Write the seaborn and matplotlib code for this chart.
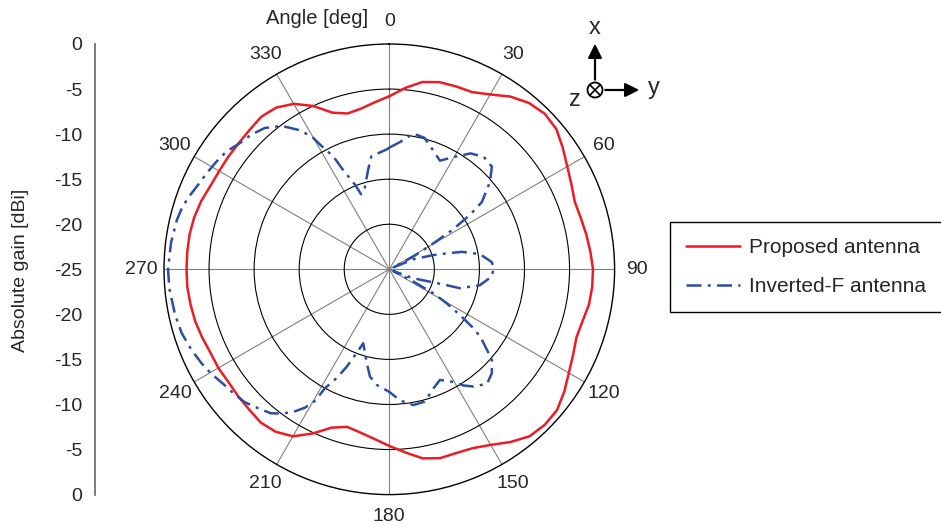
import numpy as np
import pandas as pd
import matplotlib.pyplot as plt
import seaborn as sns
from matplotlib.patches import Circle

# Proposed antenna (angle in deg, absolute gain in dBi)
proposed_angle = [0, 5, 10, 15, 20, 25, 30, 35, 40, 45, 50, 55, 60, 65, 70, 75, 80, 85,
                  90, 95, 100, 105, 110, 115, 120, 125, 130, 135, 140, 145, 150, 155, 160, 165, 170, 175,
                  180, 185, 190, 195, 200, 205, 210, 215, 220, 225, 230, 235, 240, 245, 250, 255, 260, 265,
                  270, 275, 280, 285, 290, 295, 300, 305, 310, 315, 320, 325, 330, 335, 340, 345, 350, 355, 360]
proposed_gain = [-5.8, -4.8, -3.9, -3.5, -3.4, -3.3, -2.6, -1.6, -0.9, -0.6, -0.8, -1.5, -2.2, -2.7, -3.1, -3.0, -2.8, -2.6,
                 -2.4, -2.4, -2.5, -2.8, -2.9, -2.5, -2.0, -1.3, -0.7, -0.6, -0.8, -1.6, -2.5, -3.1, -3.3, -3.3, -3.7, -4.6,
                 -5.4, -6.1, -6.6, -6.9, -6.3, -4.9, -3.6, -3.0, -2.8, -3.0, -3.1, -3.2, -3.1, -3.1, -2.9, -2.7, -2.6, -2.5,
                 -2.5, -2.5, -2.5, -2.6, -2.8, -3.1, -3.2, -3.2, -3.2, -3.1, -2.9, -3.1, -3.8, -5.0, -6.5, -7.1, -6.9, -6.4, -5.8]

# Inverted-F antenna
inv_f_angle = [0, 5, 10, 15, 20, 25, 30, 35, 40, 45, 49, 54, 56, 58, 59.5, 62, 65, 67.5, 72, 74.5, 76.5, 80.5,
               86, 89, 94, 100, 105, 105.5, 107, 110.5, 114, 117, 118.6, 120.6, 123, 125, 126.6, 129.6, 131.5,
               135.4, 139.5, 144.4, 147.4, 150.3, 155.4, 159.7, 165, 170, 175.3, 180, 186.2, 190.2, 193.5,
               199.4, 201.8, 203.6, 205.8, 208.4, 209.5, 211.4, 214, 216.8, 219.5, 223.3, 227.5, 231.5, 235.5,
               239.6, 243.4, 247.8, 252.9, 258, 265, 270, 277, 283, 286.4, 289.5, 293.8, 297.7, 301.9, 305.9,
               310.2, 314.3, 318.6, 323.1, 326.8, 329.7, 331, 333.6, 335, 338, 339.4, 342.5, 348, 351, 358.7, 360]
inv_f_gain = [-11.5, -10.8, -9.7, -9.9, -10.9, -11.7, -10.6, -9.3, -8.7, -8.9, -10.2, -12.3, -14.2, -16.7, -19.3, -22.0,
              -24.6, -22.1, -19.9, -18.4, -16.7, -14.8, -13.6, -13.4, -13.6, -14.8, -16.9, -18.4, -20.3, -22.2, -24.5,
              -22.0, -19.4, -17.6, -15.6, -13.6, -12.4, -10.9, -9.8, -8.8, -8.3, -9.0, -9.7, -10.6, -11.5, -10.9,
              -9.8, -9.7, -10.4, -11.4, -12.1, -12.9, -14.3, -16.3, -14.7, -13.2, -11.6, -10.0, -8.2, -7.0, -5.9,
              -5.0, -4.3, -3.8, -3.2, -2.9, -2.6, -2.1, -1.7, -1.3, -0.9, -0.7, -0.5, -0.45, -0.6, -0.8, -1.0,
              -1.3, -1.8, -2.1, -2.4, -2.7, -3.3, -3.6, -4.1, -5.1, -6.5, -7.9, -9.2, -11.0, -12.8, -14.9, -16.1,
              -15.8, -13.7, -12.3, -11.7, -11.5]

angle_ticks = [0, 30, 60, 90, 120, 150, 180, 210, 240, 270, 300, 330]
gain_rings = [-20, -15, -10, -5]
gain_tick_labels = ["0", "-5", "-10", "-15", "-20", "-25", "-20", "-15", "-10", "-5", "0"]

sns.set_style("white")
plt.rcParams["font.family"] = ["Liberation Sans", "DejaVu Sans"]
plt.rcParams["font.size"] = 14

df_prop = pd.DataFrame({"theta": np.deg2rad(proposed_angle), "gain": proposed_gain})
df_inv = pd.DataFrame({"theta": np.deg2rad(inv_f_angle), "gain": inv_f_gain})

fig = plt.figure(figsize=(9.41, 5.26), dpi=100)
ax = fig.add_axes([164 / 941, 31.4 / 526, 450.6 / 941, 450.6 / 526], projection="polar")

sns.lineplot(data=df_prop, x="theta", y="gain", sort=False, estimator=None, ax=ax,
             color="#ec1c24", lw=1.8, label="Proposed antenna")
sns.lineplot(data=df_inv, x="theta", y="gain", sort=False, estimator=None, ax=ax,
             color="#2b4ea2", lw=1.8, linestyle=(0, (6, 2.5, 1.2, 2.5)), label="Inverted-F antenna")

ax.set_theta_zero_location("N")
ax.set_theta_direction(-1)
ax.set_ylim(-25, 0)
ax.set_yticks(gain_rings)
ax.set_yticklabels([])
ax.set_xticks(np.deg2rad(angle_ticks))
ax.set_xticklabels([str(a) for a in angle_ticks])
ax.set_xticks(np.deg2rad(np.array(angle_ticks) + 15), minor=True)
ax.set_xlabel("")
ax.set_ylabel("")
ax.tick_params(axis="y", length=0)
ax.tick_params(axis="x", which="major", direction="out", length=4, width=0.8, color="black", pad=5, labelsize=14)
ax.tick_params(axis="x", which="minor", direction="in", length=6, width=0.8, color="black")
ax.xaxis.grid(True, color="#808080", lw=0.8)
ax.yaxis.grid(True, color="black", lw=0.8)
ax.spines["polar"].set_color("black")
ax.spines["polar"].set_linewidth(1.0)

ax.legend(loc="center left", bbox_to_anchor=(670 / 941, 1 - 267 / 526), bbox_transform=fig.transFigure,
          frameon=True, fancybox=False, edgecolor="black", framealpha=1, fontsize=15,
          handlelength=2.6, handletextpad=0.45, labelspacing=0.95, borderpad=0.75, borderaxespad=0)
ax.get_legend().get_frame().set_linewidth(1.0)

# left gain axis
axg = fig.add_axes([95 / 941, 31.4 / 526, 0.0005, 450.6 / 526])
axg.set_ylim(len(gain_tick_labels) - 1, 0)
axg.set_yticks(range(len(gain_tick_labels)))
axg.set_yticklabels(gain_tick_labels)
axg.set_xticks([])
for s in ["top", "right", "bottom"]:
    axg.spines[s].set_visible(False)
axg.spines["left"].set_color("#666666")
axg.spines["left"].set_linewidth(1.2)
axg.tick_params(axis="y", direction="out", length=6, width=1, color="#666666", labelsize=14, pad=3)
axg.patch.set_alpha(0)
fig.text(21 / 941, 1 - 270 / 526, "Absolute gain [dBi]", rotation=90, ha="center", va="center", fontsize=14)
fig.text(368 / 941, 1 - 18 / 526, "Angle [deg]", ha="right", va="center", fontsize=14.5)

# coordinate system sketch
ov = fig.add_axes([0, 0, 1, 1])
ov.set_xlim(0, 941)
ov.set_ylim(526, 0)
ov.axis("off")
ov.patch.set_alpha(0)
ov.add_patch(Circle((595, 90), 7.5, facecolor="white", edgecolor="black", lw=1.3))
ov.plot([590, 600], [85, 95], color="black", lw=1.2)
ov.plot([590, 600], [95, 85], color="black", lw=1.2)
ov.annotate("", xy=(595, 41), xytext=(595, 82.5),
            arrowprops=dict(arrowstyle="-|>,head_length=0.6,head_width=0.3", color="black", lw=1.6))
ov.annotate("", xy=(642, 90), xytext=(602.5, 90),
            arrowprops=dict(arrowstyle="-|>,head_length=0.6,head_width=0.3", color="black", lw=1.6))
ov.text(595, 28, "x", ha="center", va="center", fontsize=17)
ov.text(654, 88, "y", ha="center", va="center", fontsize=17)
ov.text(575, 100, "z", ha="center", va="center", fontsize=17)

fig.savefig("out.png", dpi=100)
